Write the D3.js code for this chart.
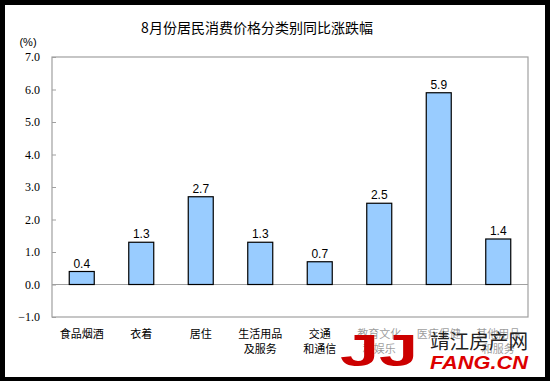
<!DOCTYPE html>
<html><head><meta charset="utf-8">
<script src="https://cdn.jsdelivr.net/npm/d3@7"></script>
<style>body{margin:0;background:#000}svg{display:block}</style>
</head><body><svg id="c" width="550" height="381"></svg>
<script>
const categories = ["食品烟酒","衣着","居住","生活用品及服务","交通和通信","教育文化和娱乐","医疗保健","其他用品和服务"];
const categoryLines = [["食品烟酒"],["衣着"],["居住"],["生活用品","及服务"],["交通","和通信"],["教育文化","和娱乐"],["医疗保健"],["其他用品","和服务"]];
const values = [0.4,1.3,2.7,1.3,0.7,2.5,5.9,1.4];
const yTicks = [-1,0,1,2,3,4,5,6,7];
const title = "8月份居民消费价格分类别同比涨跌幅";

const svg = d3.select("#c");
svg.append("rect").attr("x",0).attr("y",0).attr("width",550).attr("height",381).attr("fill","#000");
svg.append("rect").attr("x",5).attr("y",5).attr("width",540).attr("height",372).attr("fill","#fff");

const L=52,R=528,T=57,B=317;
const x = d3.scaleBand().domain(categories).range([L,R]).paddingInner(0.58).paddingOuter(0.29);
const y = d3.scaleLinear().domain([-1,7]).range([B,T]);

svg.append("text").attr("x",257).attr("y",33).attr("text-anchor","middle")
  .attr("font-family","'Noto Sans CJK SC'").attr("font-size",14).attr("fill","#000").text(title);
svg.append("text").attr("x",28).attr("y",46).attr("text-anchor","middle")
  .attr("font-family","'Liberation Sans'").attr("font-size",11).attr("fill","#000").text("(%)");

svg.append("rect").attr("x",L).attr("y",T).attr("width",R-L).attr("height",B-T)
  .attr("fill","none").attr("stroke","#a0a0a0").attr("stroke-width",1.2);

const ax = svg.append("g").attr("transform",`translate(${L},0)`)
  .call(d3.axisRight(y).tickValues(yTicks).tickSize(4).tickFormat(""));
ax.select(".domain").remove();
ax.selectAll("line").attr("stroke","#a0a0a0");

svg.append("g").selectAll("text").data(yTicks).join("text")
  .attr("x",40).attr("y",d=>y(d)+4).attr("text-anchor","end")
  .attr("font-family","'Liberation Serif'").attr("font-size",12).attr("fill","#000")
  .text(d=>d3.format(".1f")(d));

svg.append("line").attr("x1",L).attr("x2",R).attr("y1",y(0)).attr("y2",y(0))
  .attr("stroke","#a0a0a0").attr("stroke-width",1.2);

svg.append("g").selectAll("rect").data(values).join("rect")
  .attr("x",(d,i)=>x(categories[i])).attr("width",x.bandwidth())
  .attr("y",d=>y(Math.max(0,d))).attr("height",d=>Math.abs(y(d)-y(0)))
  .attr("fill","#99ccff").attr("stroke","#000").attr("stroke-width",1.2);

svg.append("g").selectAll("text").data(values).join("text")
  .attr("x",(d,i)=>x(categories[i])+x.bandwidth()/2).attr("y",d=>y(d)-4)
  .attr("text-anchor","middle").attr("font-family","'Liberation Sans'").attr("font-size",12).attr("fill","#000")
  .text(d=>d3.format(".1f")(d));

const xl = svg.append("g").selectAll("text").data(categoryLines).join("text")
  .attr("text-anchor","middle").attr("font-family","'Noto Sans CJK SC'").attr("font-size",11).attr("fill","#000");
xl.each(function(lines,i){
  const t=d3.select(this);
  lines.forEach((s,j)=>t.append("tspan").attr("x",x(categories[i])+x.bandwidth()/2).attr("y",338+j*15).text(s));
});

// watermark (translucent veil over the labels, as in the reference)
const wm = svg.append("g");
wm.append("rect").attr("x",336).attr("y",323).attr("width",196).attr("height",52).attr("fill","#fff").attr("opacity",0.6);
wm.append("text").attr("x",340).attr("y",366).attr("font-family","'Liberation Sans'").attr("font-weight","bold")
  .attr("font-size",44).attr("fill","#cc0000").attr("textLength",78).attr("lengthAdjust","spacingAndGlyphs").text("JJ");
wm.append("text").attr("x",430).attr("y",349).attr("font-family","'Noto Sans CJK SC'")
  .attr("font-size",20).attr("fill","#222").attr("textLength",98).attr("lengthAdjust","spacingAndGlyphs").text("靖江房产网");
wm.append("text").attr("x",430).attr("y",369).attr("font-family","'Liberation Sans'").attr("font-weight","bold").attr("font-style","italic")
  .attr("font-size",19).attr("fill","#dd0000").attr("textLength",98).attr("lengthAdjust","spacingAndGlyphs").text("FANG.CN");
</script></body></html>
